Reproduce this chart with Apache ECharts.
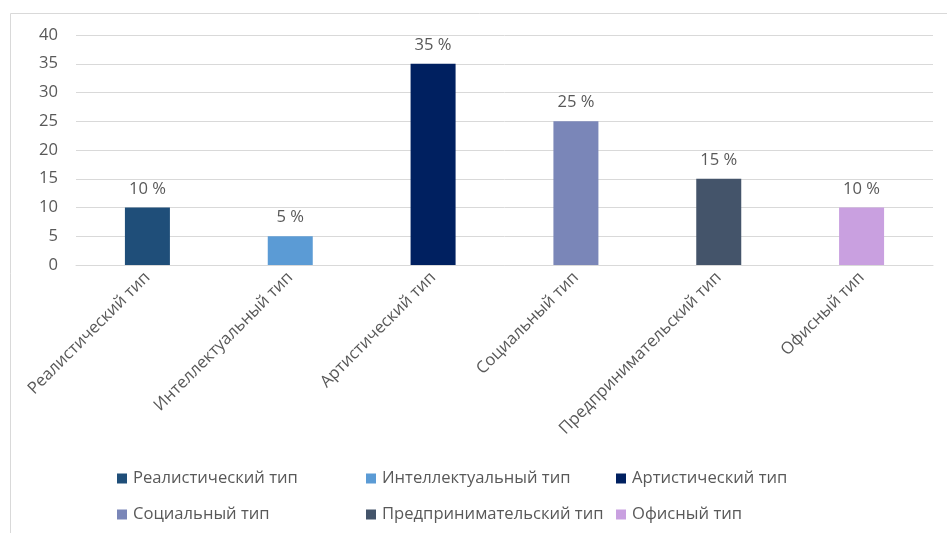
<!DOCTYPE html>
<html><head><meta charset="utf-8">
<script src="https://cdn.jsdelivr.net/npm/echarts@6/dist/echarts.min.js"></script>
<style>html,body{margin:0;padding:0;background:#fff}#c{width:947px;height:533px}</style>
</head><body><div id="c"></div>
<script>
const categories = ['Реалистический тип','Интеллектуальный тип','Артистический тип','Социальный тип','Предпринимательский тип','Офисный тип'];
const values = [10, 5, 35, 25, 15, 10];
const colors = ['#1F4E79','#5B9BD5','#002060','#7A86B8','#44546A','#C9A0E0'];
const yTicks = [0, 5, 10, 15, 20, 25, 30, 35, 40];

const FONT = '"Open Sans", "Noto Sans", sans-serif';
const FS = 16.6;
const chart = echarts.init(document.getElementById('c'), null, {renderer:'canvas'});

const series = categories.map((name, i) => ({
  name: name,
  type: 'bar',
  stack: 'all',
  barWidth: 45,
  itemStyle: {color: colors[i]},
  label: {show: true, position: 'top', distance: 10, formatter: '{c} %', color: '#595959', fontSize: FS, fontFamily: FONT},
  data: categories.map((c, j) => j === i ? values[i] : '-')
}));

const legendPos = [[117,470],[366,470],[616,470],[117,506],[366,506],[616,506]];
const legends = categories.map((name, i) => ({
  data: [name],
  left: legendPos[i][0], top: legendPos[i][1],
  padding: 0, itemWidth: 10, itemHeight: 10, itemGap: 0,
  icon: 'rect',
  textStyle: {color: '#595959', fontSize: FS, fontFamily: FONT, padding: [0,0,0,1]},
  selectedMode: false
}));

chart.setOption({
  animation: false,
  color: colors,
  graphic: [{type:'rect', shape:{x:10.5, y:13.5, width:960, height:560}, style:{fill:'none', stroke:'#D9D9D9', lineWidth:1}, silent:true, z:-1}],
  grid: {left: 76, right: 14, top: 35, bottom: 268, containLabel: false},
  legend: legends,
  xAxis: {
    type: 'category', data: categories,
    axisLine: {show: true, lineStyle: {color: '#D9D9D9', width: 1}},
    axisTick: {show: false},
    axisLabel: {rotate: 45, interval: 0, margin: 10, color: '#595959', fontSize: FS, fontFamily: FONT}
  },
  yAxis: {
    type: 'value', min: yTicks[0], max: yTicks[yTicks.length-1], interval: 5,
    axisLine: {show: false}, axisTick: {show: false},
    splitLine: {lineStyle: {color: '#D9D9D9', width: 1}},
    axisLabel: {margin: 18, color: '#595959', fontSize: FS, fontFamily: FONT}
  },
  series: series
});
</script></body></html>
